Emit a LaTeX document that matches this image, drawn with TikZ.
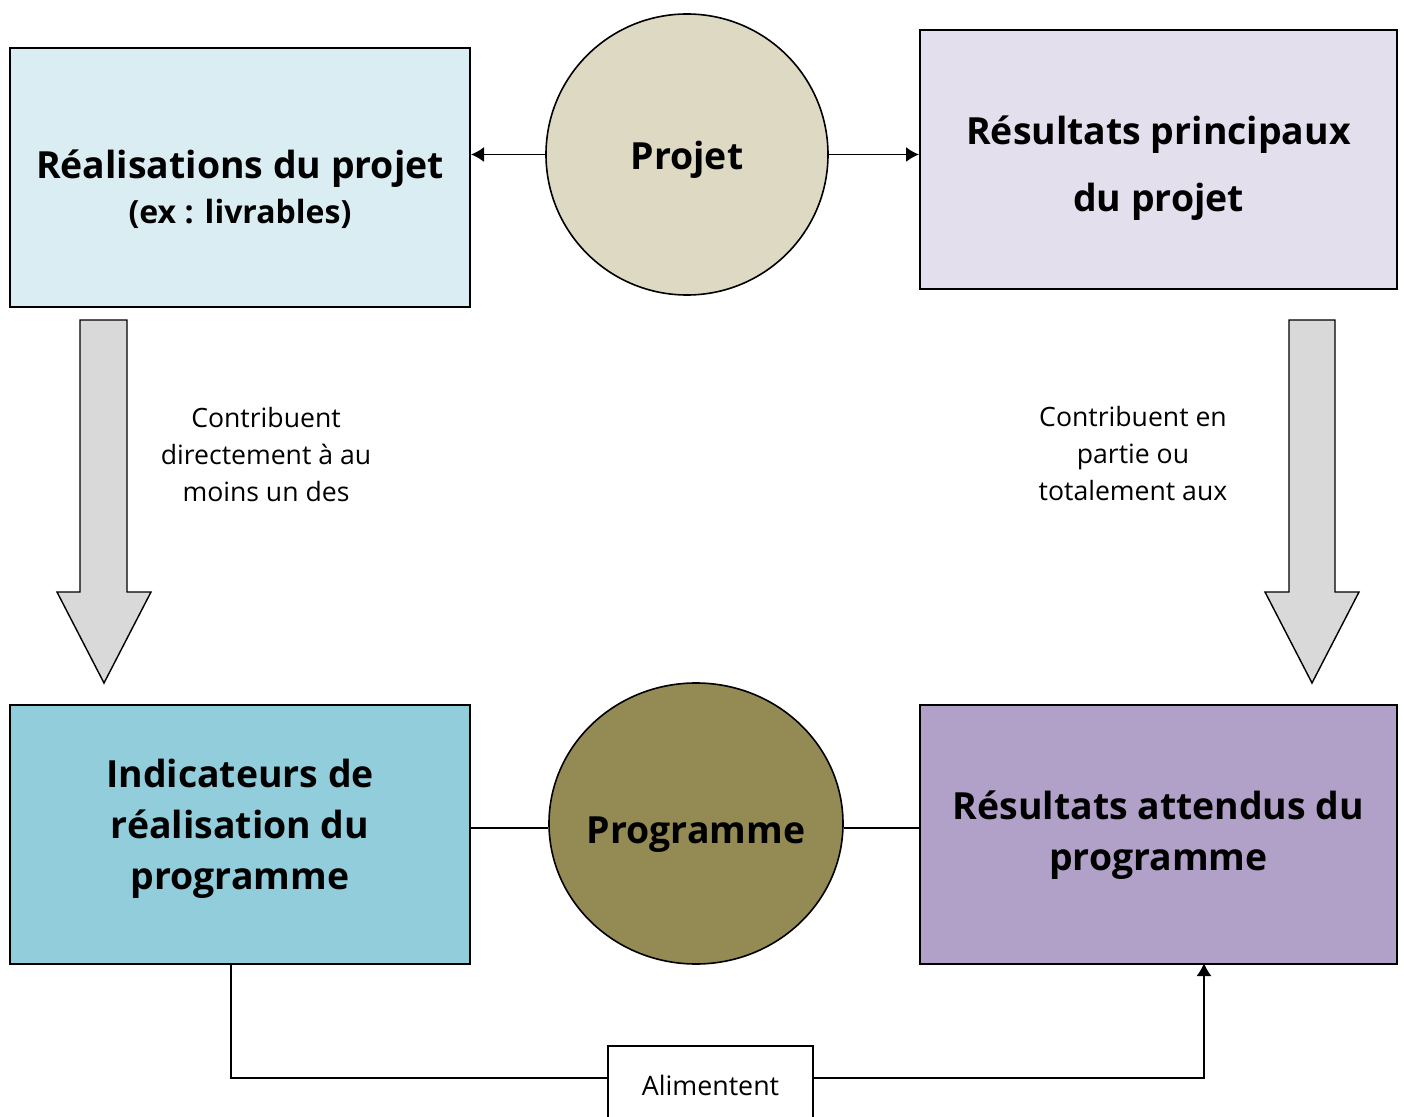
\documentclass[tikz,border=0pt]{standalone}
\usepackage{fontspec}
\setmainfont{Open Sans}
\usetikzlibrary{arrows.meta,shapes.geometric}
\definecolor{bleuclair}{HTML}{DAEDF3}
\definecolor{bleu}{HTML}{92CDDC}
\definecolor{beige}{HTML}{DDD9C3}
\definecolor{olive}{HTML}{948A54}
\definecolor{mauveclair}{HTML}{E4DFEC}
\definecolor{mauve}{HTML}{B1A0C7}
\definecolor{grisfleche}{HTML}{D9D9D9}
\tikzset{
  boite/.style={draw, line width=1pt, minimum height=129.5pt, inner sep=0pt},
  gros/.style={align=center, font=\bfseries\fontsize{18.7}{25.5}\selectfont},
  rond/.style={draw, ellipse, line width=0.8pt, inner sep=0pt},
  remarque/.style={align=center, font=\fontsize{13.3}{18.5}\selectfont},
  fleche/.style={-{Latex[length=6.5pt,width=7.5pt]}, line width=0.8pt},
  trait/.style={line width=0.8pt},
  grosse/.style={draw, fill=grisfleche, line width=0.7pt},
}
\begin{document}
\begin{tikzpicture}[x=0.5pt, y=-0.5pt]
    \useasboundingbox (0,0) rectangle (1404,1117);
    \clip (0,0) rectangle (1404,1117);

        % haut
        \node[boite, fill=bleuclair, minimum width=230pt] (reali) at (240,177.5) {};
        \node[gros] at ([yshift=-6pt]reali.center) {R\'ealisations du projet\\[-3pt]{\fontsize{16}{18}\selectfont (ex : livrables)}};
        \node[rond, fill=beige, minimum width=141pt, minimum height=140.5pt] (projet) at (687,154.5) {};
        \node[gros, text depth=0pt] at ([yshift=-0.25pt]projet.center) {Projet};
        \node[boite, fill=mauveclair, minimum width=238.5pt] (resprin) at (1158.5,159.5) {};
        \node[gros, font=\bfseries\fontsize{18.7}{33.5}\selectfont] at ([yshift=-4.5pt]resprin.center) {R\'esultats principaux\\du projet};

        \draw[fleche] (projet.west) -- (reali.east |- projet.west);
        \draw[fleche] (projet.east) -- (resprin.west |- projet.east);

        % grosses fleches
        \draw[grosse] (80,320) -- (127,320) -- (127,592) -- (151,592) -- (104,683) -- (57,592) -- (80,592) -- cycle;
        \draw[grosse] (1289,320) -- (1335,320) -- (1335,592) -- (1359,592) -- (1312,683) -- (1265,592) -- (1289,592) -- cycle;
        \node[remarque] at (266,455) {Contribuent\\directement \`a au\\moins un des};
        \node[remarque] at (1133,454) {Contribuent en\\partie ou\\totalement aux};

        % bas
        \node[boite, fill=bleu, minimum width=230pt] (indic) at (240,834) {};
        \node[gros] at ([yshift=2.5pt]indic.center) {Indicateurs de\\r\'ealisation du\\programme};
        \node[rond, fill=olive, minimum width=147pt, minimum height=140.5pt] (prog) at (696,823.5) {};
        \node[gros, text depth=0pt] at ([yshift=-3.25pt]prog.center) {Programme};
        \node[boite, fill=mauve, minimum width=238.5pt] (resatt) at (1158.5,834) {};
        \node[gros] at ([yshift=-0.5pt]resatt.center) {R\'esultats attendus du\\programme};

        \draw[trait] (indic.east |- 0,828) -- (prog.west |- 0,828);
        \draw[trait] (prog.east |- 0,828) -- (resatt.west |- 0,828);

        \node[draw, line width=0.8pt, minimum width=102.5pt, minimum height=39pt, font=\fontsize{13.4}{15}\selectfont] (alim) at (710.5,1085) {Alimentent};
        \coordinate (dep) at (231,963);
        \coordinate (arr) at (1204,963);
        \draw[trait] (dep) |- (alim.west |- 0,1078);
        \draw[fleche] (alim.east |- 0,1078) -| (arr);

\end{tikzpicture}
\end{document}
